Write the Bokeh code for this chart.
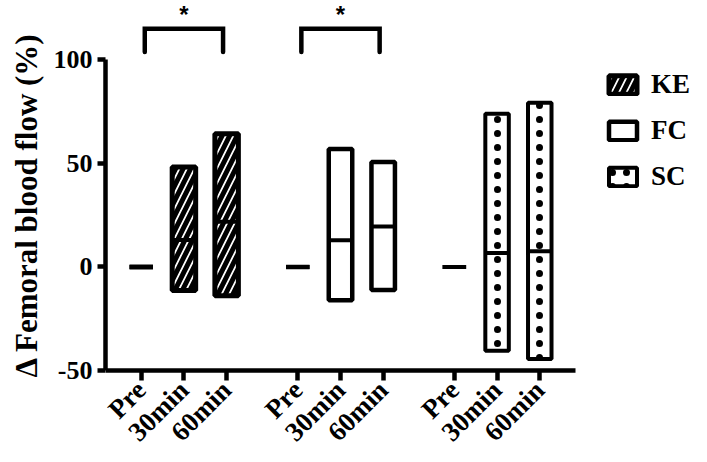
from math import pi
from bokeh.plotting import figure
from bokeh.models import ColumnDataSource, Range1d, FixedTicker, Legend, LegendItem, Title
from bokeh.core.properties import value
from bokeh.embed import file_html
from bokeh.resources import INLINE

# ---------------- data ----------------
groups = ["KE", "FC", "SC"]
times = ["Pre", "30min", "60min"]
ke_min = [0, -11.3, -13.9]
ke_median = [0, 13.0, 21.9]
ke_max = [0, 48.3, 64.4]
fc_min = [0, -16.1, -11.1]
fc_median = [0, 12.9, 19.6]
fc_max = [0, 57.0, 50.7]
sc_min = [0, -40.4, -44.5]
sc_median = [0, 6.8, 7.6]
sc_max = [0, 74.0, 79.3]
y_ticks = [-50, 0, 50, 100]
y_tick_labels = ["-50", "0", "50", "100"]
y_label = "Δ Femoral blood flow (%)"
sig_groups = ["KE", "FC"]          # Pre vs 60min significant
sig_text = "*"

# ---------------- layout / style ----------------
SLOT = 3          # x units between time points
GSTRIDE = 11      # x units between groups
BAR_W = 1.65
SERIF = "Liberation Serif"
W, H = 691, 446
AXIS_Y = -50                      # where the x axis sits
Y_BOTTOM, Y_TOP = -86.7, 128.7    # frame extends below the axis for its labels
X_START, X_END = -2.51, 38.66

series = {
    "KE": (ke_min, ke_median, ke_max),
    "FC": (fc_min, fc_median, fc_max),
    "SC": (sc_min, sc_median, sc_max),
}
styles = {
    "KE": dict(hatch_pattern="/", hatch_scale=15, hatch_weight=5, line_width=5),
    "FC": dict(hatch_pattern=" ", hatch_scale=12, hatch_weight=1, line_width=4.5),
    "SC": dict(hatch_pattern=".", hatch_scale=14, hatch_weight=2, line_width=4),
}

def xpos(gi, ti):
    return gi * GSTRIDE + ti * SLOT

p = figure(width=W, height=H,
           x_range=Range1d(X_START, X_END), y_range=Range1d(Y_BOTTOM, Y_TOP),
           output_backend="svg", toolbar_location=None, title=None,
           min_border_left=0, min_border_right=0, min_border_top=0,
           min_border_bottom=0)
p.grid.visible = False
p.outline_line_color = None
p.background_fill_color = "white"

legend_items = []
for gi, g in enumerate(groups):
    lo, med, hi = series[g]
    xs = [xpos(gi, ti) for ti in range(len(times))]
    src = ColumnDataSource(dict(x=xs, top=hi, bottom=lo, med=med,
                                x0=[x - BAR_W / 2 for x in xs],
                                x1=[x + BAR_W / 2 for x in xs]))
    st = styles[g]
    r = p.vbar(x="x", width=BAR_W, top="top", bottom="bottom", source=src,
               fill_color="white", line_color="black", line_width=st["line_width"],
               hatch_pattern=st["hatch_pattern"], hatch_scale=st["hatch_scale"],
               hatch_weight=st["hatch_weight"], hatch_color="black")
    p.segment(x0="x0", x1="x1", y0="med", y1="med", source=src,
              line_color="black", line_width=4)
    legend_items.append(LegendItem(label=g, renderers=[r]))

# significance brackets
BR_LOW, BR_HIGH, STAR_Y = 103.8, 115.1, 128.4
for g in sig_groups:
    gi = groups.index(g)
    xa = xpos(gi, 0) + 0.25
    xb = xpos(gi, 2) - 0.25
    p.line([xa, xa, xb, xb], [BR_LOW, BR_HIGH, BR_HIGH, BR_LOW],
           line_color="black", line_width=4.5, line_cap="round", line_join="miter")
    p.text(x=[(xa + xb) / 2], y=[STAR_Y], text=[sig_text],
           text_font=value("Liberation Sans"), text_font_style="bold",
           text_font_size="24px", text_align="center", text_baseline="top",
           text_color="black")

# x axis fixed at y = -50, drawn inside the frame
tick_pos = [xpos(gi, ti) for gi in range(len(groups)) for ti in range(len(times))]
tick_lab = [times[ti] for gi in range(len(groups)) for ti in range(len(times))]

xa_ = p.xaxis[0]
xa_.fixed_location = AXIS_Y
xa_.ticker = FixedTicker(ticks=tick_pos)
xa_.major_label_overrides = {t: l for t, l in zip(tick_pos, tick_lab)}
xa_.major_label_orientation = pi / 4
xa_.bounds = (X_START, 30.5)
xa_.minor_tick_line_color = None
xa_.major_tick_in = 0
xa_.major_tick_out = 10
xa_.major_tick_line_width = 4.5
xa_.axis_line_width = 4.5
xa_.major_label_standoff = 5
xa_.major_label_text_font = SERIF
xa_.major_label_text_font_style = "bold"
xa_.major_label_text_font_size = "27px"
xa_.major_label_text_color = "black"

ya = p.yaxis[0]
ya.ticker = FixedTicker(ticks=y_ticks)
ya.major_label_overrides = {t: l for t, l in zip(y_ticks, y_tick_labels)}
ya.bounds = (AXIS_Y, 100)
ya.minor_tick_line_color = None
ya.major_tick_in = 0
ya.major_tick_out = 8
ya.major_tick_line_width = 4.5
ya.axis_line_width = 4.5
ya.major_label_standoff = 5
ya.major_label_text_font = SERIF
ya.major_label_text_font_style = "bold"
ya.major_label_text_font_size = "26px"
ya.major_label_text_color = "black"

# y-axis title, placed as a side title so it sits where the reference has it
p.add_layout(Title(text=y_label, align="left", offset=69, standoff=13,
                   text_font=SERIF, text_font_style="bold",
                   text_font_size="31px", text_color="black"), "left")

legend = Legend(items=legend_items, location=(500, 254), orientation="vertical",
                border_line_color=None, background_fill_alpha=0,
                padding=0, margin=0, spacing=15,
                glyph_width=35, glyph_height=23, label_height=23,
                label_standoff=11, label_text_font=SERIF,
                label_text_font_style="bold", label_text_font_size="27px",
                label_text_color="black")
p.add_layout(legend)

open("out.html", "w").write(file_html(p, INLINE))
